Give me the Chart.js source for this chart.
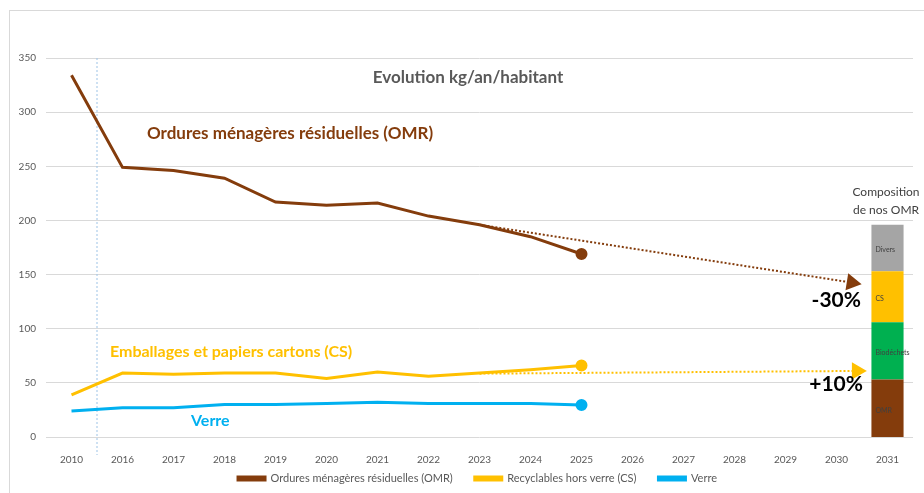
<!DOCTYPE html>
<html>
<head>
<meta charset="utf-8">
<script src="https://cdn.jsdelivr.net/npm/chart.js@4.4.0/dist/chart.umd.min.js"></script>
<style>
  html, body { margin: 0; padding: 0; background: #fff; }
  #wrap { position: relative; width: 924px; height: 493px; overflow: hidden; }
  #frame { position: absolute; left: 9px; top: 10px; width: 930px; height: 500px; border: 1px solid #d9d9d9; box-sizing: border-box; }
  canvas { position: absolute; left: 0; top: 0; }
</style>
</head>
<body>
<div id="wrap">
  <div id="frame"></div>
  <canvas id="evolution-chart" width="924" height="493"></canvas>
</div>
<script>
// kg/an/habitant
var years = ['2010', '2016', '2017', '2018', '2019', '2020', '2021', '2022', '2023', '2024', '2025', '2026', '2027', '2028', '2029', '2030', '2031'];
var omr = [334, 249, 246, 239, 217, 214, 216, 204, 196, 185, 169, null, null, null, null, null, null];
var cs = [39, 59, 58, 59, 59, 54, 60, 56, 59, 62, 66, null, null, null, null, null, null];
var verre = [24, 27, 27, 30, 30, 31, 32, 31, 31, 31, 29.5, null, null, null, null, null, null];
var yTicks = [0, 50, 100, 150, 200, 250, 300, 350];

// objectifs (index de categorie -> valeur)
var omrTargetAt = [8, 15.3];
var omrTarget = [196, 142.6];
var csTargetAt = [8, 15.4];
var csTarget = [58.5, 61];

// composition des OMR (2031)
var compositionParts = ['OMR', 'Biodéchets', 'CS', 'Divers'];
var compositionValues = [53, 53, 47, 43];

var seriesLabels = ['Ordures ménagères résiduelles (OMR)', 'Recyclables hors verre (CS)', 'Verre'];

var brown = '#843c0c';
var yellow = '#ffc000';
var blue = '#00b0f0';
var partColors = [brown, '#00b050', yellow, '#a5a5a5'];
var font = 'Lato, "Open Sans", sans-serif';

function lastDot(values) {
  var last = 0;
  values.forEach(function (v, i) { if (v !== null) last = i; });
  return function (ctx) { return ctx.dataIndex === last ? 4.5 : 0; };
}

function lineSet(label, values, color) {
  return {
    type: 'line', label: label, data: values, borderColor: color, backgroundColor: color,
    borderWidth: 3, pointRadius: lastDot(values), pointHoverRadius: 0, tension: 0, xAxisID: 'x', yAxisID: 'y'
  };
}

function targetSet(at, values, color, rot) {
  return {
    type: 'line', label: 'objectif', data: at.map(function (x, i) { return { x: x, y: values[i] }; }),
    borderColor: color, backgroundColor: color, borderWidth: 2, borderDash: [2, 2],
    pointStyle: 'triangle', pointRotation: rot,
    pointRadius: function (ctx) { return ctx.dataIndex === at.length - 1 ? 8 : 0; },
    xAxisID: 'xp', yAxisID: 'y'
  };
}

var datasets = [
  lineSet(seriesLabels[0], omr, brown),
  lineSet(seriesLabels[1], cs, yellow),
  lineSet(seriesLabels[2], verre, blue),
  targetSet(omrTargetAt, omrTarget, brown, 99),
  targetSet(csTargetAt, csTarget, yellow, 90)
];
compositionParts.forEach(function (part, i) {
  datasets.push({
    type: 'bar', label: part, stack: 'comp', grouped: false,
    data: years.map(function (y, j) { return j === years.length - 1 ? compositionValues[i] : null; }),
    backgroundColor: partColors[i], borderWidth: 0,
    categoryPercentage: 1, barPercentage: 0.63, xAxisID: 'x', yAxisID: 'yb'
  });
});

var annotations = {
  id: 'annotations',
  afterLayout: function (chart) {
    // legende plus haute et un peu a droite, comme dans l'original
    chart.legend.top -= 12;
    chart.legend.height += 12;
    chart.legend.left += 16;
    chart.legend.right += 16;
  },
  beforeDatasetsDraw: function (chart) {
    var c = chart.ctx, x = chart.scales.x, a = chart.chartArea;
    var px = (x.getPixelForTick(0) + x.getPixelForTick(1)) / 2;
    c.save();
    c.strokeStyle = '#9dc3e6';
    c.lineWidth = 1;
    c.setLineDash([2, 2]);
    c.beginPath();
    c.moveTo(px, a.top);
    c.lineTo(px, a.bottom + 18);
    c.stroke();
    c.restore();
  },
  afterDraw: function (chart) {
    var c = chart.ctx;
    c.save();
    c.textBaseline = 'middle';
    c.textAlign = 'center';
    c.fillStyle = '#595959';
    c.font = 'bold 17px ' + font;
    c.fillText('Evolution kg/an/habitant', 468, 78);

    c.textAlign = 'left';
    c.fillStyle = brown;
    c.fillText('Ordures ménagères résiduelles (OMR)', 147, 134);
    c.fillStyle = yellow;
    c.font = 'bold 16px ' + font;
    c.fillText('Emballages et papiers cartons (CS)', 110, 352);
    c.fillStyle = blue;
    c.fillText('Verre', 191, 421);

    c.textAlign = 'right';
    c.fillStyle = '#000';
    c.font = 'bold 21px ' + font;
    c.fillText('-30%', 861, 300);
    c.fillText('+10%', 863, 384);

    c.textAlign = 'center';
    c.fillStyle = '#404040';
    c.font = '12px ' + font;
    c.fillText('Composition', 886, 192);
    c.fillText('de nos OMR', 886, 210);

    c.textAlign = 'left';
    c.font = '7px ' + font;
    compositionParts.forEach(function (part, i) {
      var el = chart.getDatasetMeta(5 + i).data[years.length - 1];
      c.fillText(part, el.x - el.width / 2 + 4, (el.y + el.base) / 2 + 2);
    });
    c.restore();
  }
};

new Chart(document.getElementById('evolution-chart').getContext('2d'), {
  data: { labels: years, datasets: datasets },
  options: {
    responsive: false,
    animation: false,
    layout: { padding: { left: 10, right: 11, top: 58, bottom: 0 } },
    plugins: {
      tooltip: { enabled: false },
      legend: {
        position: 'bottom',
        maxHeight: 30,
        labels: {
          filter: function (item) { return item.datasetIndex < 3; },
          boxWidth: 27, boxHeight: 3, color: '#595959', padding: 22,
          font: { family: font, size: 11 }
        }
      }
    },
    scales: {
      x: {
        type: 'category', offset: true,
        grid: { display: false }, border: { display: false },
        ticks: { color: '#595959', font: { family: font, size: 10 }, padding: 9 },
        afterFit: function (s) { s.height = 26; }
      },
      xp: { type: 'linear', display: false, min: -0.5, max: years.length - 0.5 },
      y: {
        min: yTicks[0], max: yTicks[yTicks.length - 1],
        afterBuildTicks: function (s) { s.ticks = yTicks.map(function (v) { return { value: v }; }); },
        grid: { color: '#d9d9d9', drawTicks: false }, border: { display: false },
        ticks: { color: '#595959', font: { family: font, size: 10 }, padding: 10 },
        afterFit: function (s) { s.width = 36; }
      },
      yb: { display: false, stacked: true, min: yTicks[0], max: yTicks[yTicks.length - 1] }
    }
  },
  plugins: [annotations]
});
</script>
</body>
</html>
